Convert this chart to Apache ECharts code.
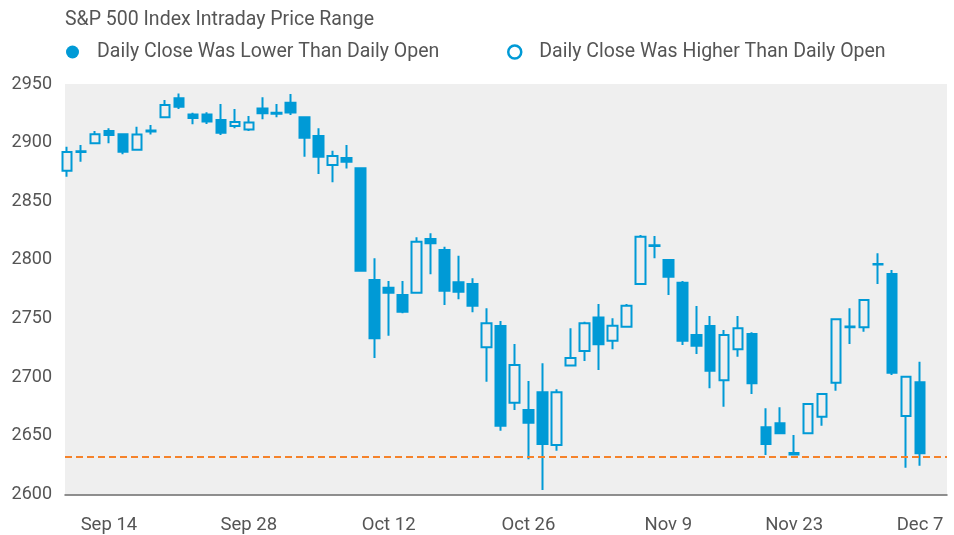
<!DOCTYPE html>
<html>
<head>
<meta charset="utf-8">
<script src="https://cdn.jsdelivr.net/npm/echarts@6/dist/echarts.min.js"></script>
<style>
  html, body { margin: 0; padding: 0; background: #ffffff; }
  #chart { width: 954px; height: 535px; }
</style>
</head>
<body>
<div id="chart"></div>
<script>
// Trading days shown on the chart (category labels)
const dates = [
  'Sep 11','Sep 12','Sep 13','Sep 14','Sep 17','Sep 18','Sep 19','Sep 20','Sep 21','Sep 24',
  'Sep 25','Sep 26','Sep 27','Sep 28','Oct 1','Oct 2','Oct 3','Oct 4','Oct 5','Oct 8',
  'Oct 9','Oct 10','Oct 11','Oct 12','Oct 15','Oct 16','Oct 17','Oct 18','Oct 19','Oct 22',
  'Oct 23','Oct 24','Oct 25','Oct 26','Oct 29','Oct 30','Oct 31','Nov 1','Nov 2','Nov 5',
  'Nov 6','Nov 7','Nov 8','Nov 9','Nov 12','Nov 13','Nov 14','Nov 15','Nov 16','Nov 19',
  'Nov 20','Nov 21','Nov 23','Nov 26','Nov 27','Nov 28','Nov 29','Nov 30','Dec 3','Dec 4',
  'Dec 6','Dec 7'
];
const opens = [
  2876, 2892, 2899.4, 2909.9, 2907.1, 2894, 2909.6, 2921.6, 2937.8, 2924,
  2924, 2919.3, 2914.2, 2911.3, 2929.2, 2925.5, 2934, 2921.6, 2905.6, 2880.9,
  2886.9, 2878.1, 2782.9, 2776.3, 2770, 2772, 2817.8, 2808.4, 2781, 2779.5,
  2725.5, 2743.6, 2678.3, 2672, 2687.1, 2642.2, 2710, 2722.3, 2751, 2731.1,
  2743, 2779.5, 2812.5, 2799.9, 2780.6, 2736, 2743.6, 2697.4, 2723.8, 2736.8,
  2657.3, 2660.7, 2635.4, 2652.2, 2666.3, 2695.3, 2742.5, 2742.5, 2796.5, 2788,
  2667, 2695.6
];
const closes = [
  2892, 2892.6, 2907.1, 2906.5, 2892.2, 2907, 2910.4, 2932.1, 2930.6, 2921,
  2918, 2908.4, 2917.7, 2917.2, 2925, 2924.6, 2925.8, 2904.2, 2888, 2888.6,
  2883.7, 2790.8, 2733.2, 2772.1, 2755.8, 2815.5, 2814.2, 2773.7, 2772.9, 2761,
  2746, 2658.7, 2710.4, 2661.2, 2643, 2687.1, 2716.3, 2746, 2728, 2743.9,
  2761, 2819.8, 2811.8, 2785.7, 2731.1, 2726.9, 2705.5, 2736, 2741.7, 2694.8,
  2643, 2652.2, 2634, 2677.2, 2685.7, 2749.4, 2743.2, 2765.8, 2796, 2703.8,
  2700.4, 2635.1
];
const highs = [
  2896.5, 2898, 2910, 2912.2, 2907.5, 2913.6, 2915, 2936.3, 2942, 2925.5,
  2926, 2933, 2928.6, 2922.7, 2938.6, 2933, 2941.4, 2922, 2912.2, 2893.1,
  2898, 2878.5, 2801.4, 2782, 2782, 2819.3, 2822.7, 2811.3, 2803.6, 2784.3,
  2758.7, 2748, 2728.3, 2696.8, 2711.8, 2689.7, 2741.7, 2747.3, 2762.4, 2750.2,
  2762.4, 2821.2, 2820.4, 2800.3, 2782, 2760.7, 2752.2, 2740.2, 2752.2, 2738.3,
  2673.5, 2674.3, 2650.7, 2678, 2686.5, 2750, 2758.7, 2766.5, 2805.6, 2791.4,
  2701, 2713.2
];
const lows = [
  2871, 2883.7, 2899, 2899.4, 2890, 2893.5, 2907, 2921, 2928.6, 2915.6,
  2916, 2906.5, 2912.2, 2910, 2920, 2921.6, 2923.5, 2888, 2873.2, 2866.2,
  2878, 2790.5, 2716.4, 2735.4, 2754.5, 2771.5, 2787.7, 2761.5, 2766.4, 2755.3,
  2696.2, 2654.4, 2672, 2630, 2603.8, 2637.3, 2709.5, 2713.8, 2706.1, 2723.8,
  2742.5, 2779, 2801.4, 2770, 2727.5, 2719.8, 2690.5, 2674.9, 2717.5, 2685.7,
  2633.7, 2652, 2633.5, 2652, 2658.7, 2688.5, 2728.3, 2738.8, 2779.5, 2701.9,
  2622.8, 2624.6
];
const labelDays = ['Sep 14', 'Sep 28', 'Oct 12', 'Oct 26', 'Nov 9', 'Nov 23', 'Dec 7'];
const yTicks = [2600, 2650, 2700, 2750, 2800, 2850, 2900, 2950];
const referenceLevel = 2632;

const lowerName = 'Daily Close Was Lower Than Daily Open';
const higherName = 'Daily Close Was Higher Than Daily Open';

const BLUE = '#009ad6';
const TEXT = '#555555';
const BG = '#efefef';
const FONT = 'Roboto, "Noto Sans", sans-serif';

const lowerData = [];
const higherData = [];
dates.forEach((d, i) => {
  const item = [i, opens[i], closes[i], lows[i], highs[i]];
  if (closes[i] < opens[i]) lowerData.push(item); else higherData.push(item);
});
const labelIdx = labelDays.map(d => dates.indexOf(d));

const chart = echarts.init(document.getElementById('chart'), null, { renderer: 'canvas' });
const candleCommon = {
  type: 'candlestick',
  barWidth: 10,
  encode: { x: 0, y: [1, 2, 3, 4] },
  clip: true,
  animation: false
};
chart.setOption({
  animation: false,
  backgroundColor: '#ffffff',
  title: {
    text: 'S&P 500 Index Intraday Price Range',
    left: 60, top: 5,
    textStyle: { fontFamily: FONT, fontSize: 19.5, fontWeight: 'normal', color: TEXT }
  },
  legend: [{
    left: 66, top: 42, padding: 0,
    itemWidth: 13, itemHeight: 13,
    data: [{ name: lowerName, icon: 'circle', itemStyle: { color: BLUE, borderColor: BLUE, borderWidth: 0 } }],
    textStyle: { fontFamily: FONT, fontSize: 19.5, color: TEXT, padding: [0, 0, 0, 13] }
  }, {
    left: 507, top: 42, padding: 0,
    itemWidth: 13, itemHeight: 13,
    data: [{ name: higherName, icon: 'circle', itemStyle: { color: '#ffffff', borderColor: BLUE, borderWidth: 2.5 } }],
    textStyle: { fontFamily: FONT, fontSize: 19.5, color: TEXT, padding: [0, 0, 0, 13] }
  }],
  grid: {
    left: 65, right: 7, top: 84, bottom: 40.5,
    show: true, backgroundColor: BG, borderWidth: 0
  },
  xAxis: {
    type: 'value',
    min: -0.14, max: 62.93,
    splitLine: { show: false },
    axisTick: { show: false },
    axisLine: { show: true, onZero: false, lineStyle: { color: '#6b6b6b', width: 1.5 } },
    axisLabel: {
      customValues: labelIdx,
      formatter: v => dates[Math.round(v)] || '',
      fontFamily: FONT, fontSize: 18.5, color: TEXT, margin: 21
    }
  },
  yAxis: {
    type: 'value',
    min: yTicks[0], max: yTicks[yTicks.length - 1], interval: 50,
    splitLine: { show: false },
    axisLine: { show: false },
    axisTick: { show: false },
    axisLabel: { fontFamily: FONT, fontSize: 18, color: TEXT, margin: 13, formatter: v => String(v) }
  },
  series: [
    Object.assign({}, candleCommon, {
      name: lowerName,
      data: lowerData,
      itemStyle: { color: BLUE, color0: BLUE, borderColor: BLUE, borderColor0: BLUE, borderWidth: 2 },
      markLine: {
        silent: true,
        symbol: ['none', 'none'],
        label: { show: false },
        lineStyle: { color: '#f5822a', type: [7, 4], width: 2 },
        data: [{ yAxis: referenceLevel }]
      }
    }),
    Object.assign({}, candleCommon, {
      name: higherName,
      data: higherData,
      itemStyle: { color: BG, color0: BG, borderColor: BLUE, borderColor0: BLUE, borderWidth: 2 }
    })
  ]
});
</script>
</body>
</html>
